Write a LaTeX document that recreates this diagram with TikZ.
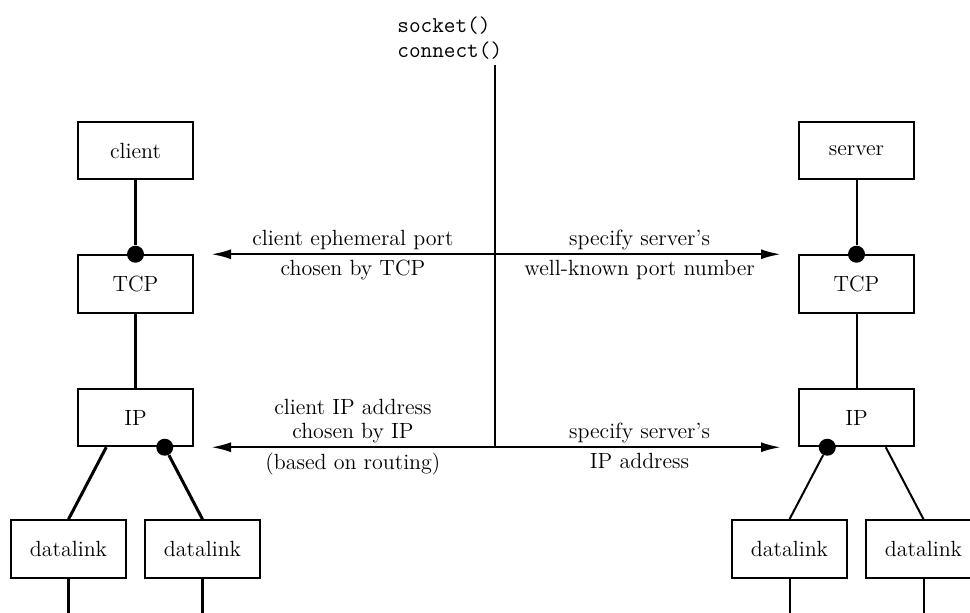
\documentclass[tikz,border=0pt]{standalone}
\usepackage{tikz}
\usetikzlibrary{arrows.meta, positioning, calc}

\begin{document}
\begin{tikzpicture}[
  x=0.5pt, y=-0.5pt,
  font=\fontsize{11}{12}\selectfont,
  >=Latex,
  node distance=37pt,
  box/.style={draw,line width=1pt,minimum width=57.5pt,minimum height=28.75pt,inner sep=2pt},
  dot/.style={circle,fill,inner sep=0pt,minimum size=8.5pt},
  thicklink/.style={line width=1.5pt},
  thinlink/.style={line width=1pt},
  arr/.style={-{Latex[length=10pt,width=5pt]},line width=1.2pt,shorten >=8.5pt},
  toplbl/.style={above=1.5pt,inner sep=0pt,align=center},
  botlbl/.style={below=2.5pt,inner sep=0pt,align=center},
  calls/.style={font=\ttfamily\fontsize{11.3}{12.5}\selectfont,align=left,inner sep=0pt}
]
\useasboundingbox (0,0) rectangle (970,613);
\coordinate (floor) at (0,613);
\coordinate (stem) at (495,65);

% client side
\node[box] (client) at (135.5,150.5) {client};
\node[box,below=of client] (ctcp) {TCP};
\node[box,below=of ctcp] (cip) {IP};
\node[box,below left=36pt and -25pt of cip] (cdl1) {datalink};
\node[box,below right=36pt and -25pt of cip] (cdl2) {datalink};

% server side
\node[box] (server) at (856.5,150.5) {server};
\node[box,below=of server] (stcp) {TCP};
\node[box,below=of stcp] (sip) {IP};
\node[box,below left=36pt and -25pt of sip] (sdl1) {datalink};
\node[box,below right=36pt and -25pt of sip] (sdl2) {datalink};

% links
\node[dot] (ctcpdot) at (ctcp.north) {};
\node[dot] (cipdot) at ($(cip.south west)!.75!(cip.south east)$) {};
\draw[thicklink] (client) -- (ctcpdot);
\draw[thicklink] (ctcp) -- (cip);
\draw[thicklink] ($(cip.south west)!.25!(cip.south east)$) -- (cdl1.north);
\draw[thicklink] (cipdot) -- (cdl2.north);
\draw[thicklink] (cdl1.south) -- (cdl1.south |- floor);
\draw[thicklink] (cdl2.south) -- (cdl2.south |- floor);

\node[dot] (stcpdot) at (stcp.north) {};
\node[dot] (sipdot) at ($(sip.south west)!.25!(sip.south east)$) {};
\draw[thinlink] (server) -- (stcpdot);
\draw[thinlink] (stcp) -- (sip);
\draw[thinlink] (sipdot) -- (sdl1.north);
\draw[thinlink] ($(sip.south west)!.75!(sip.south east)$) -- (sdl2.north);
\draw[thinlink] (sdl1.south) -- (sdl1.south |- floor);
\draw[thinlink] (sdl2.south) -- (sdl2.south |- floor);

% system calls
\node[calls,anchor=south west] (calls) at (397,60) {socket()\\connect()};
\draw[line width=1.2pt] (stem) -- (stem |- cip.south);

% bindings
\draw[arr] (stem |- ctcp.north) -- (ctcp.north east)
  node[toplbl,pos=.472] (cporta) {client ephemeral port}
  node[botlbl,pos=.472] (cportb) {chosen by TCP};
\draw[arr] (stem |- stcp.north) -- (stcp.north west)
  node[toplbl,pos=.477] (sporta) {specify server's}
  node[botlbl,pos=.477] (sportb) {well-known port number};
\draw[arr] (stem |- cip.south) -- (cip.south east)
  node[toplbl,pos=.472] (caddra) {client IP address\\chosen by IP}
  node[botlbl,pos=.472] (caddrb) {(based on routing)};
\draw[arr] (stem |- sip.south) -- (sip.south west)
  node[toplbl,pos=.477] (saddra) {specify server's}
  node[botlbl,pos=.477] (saddrb) {IP address};
\end{tikzpicture}
\end{document}
